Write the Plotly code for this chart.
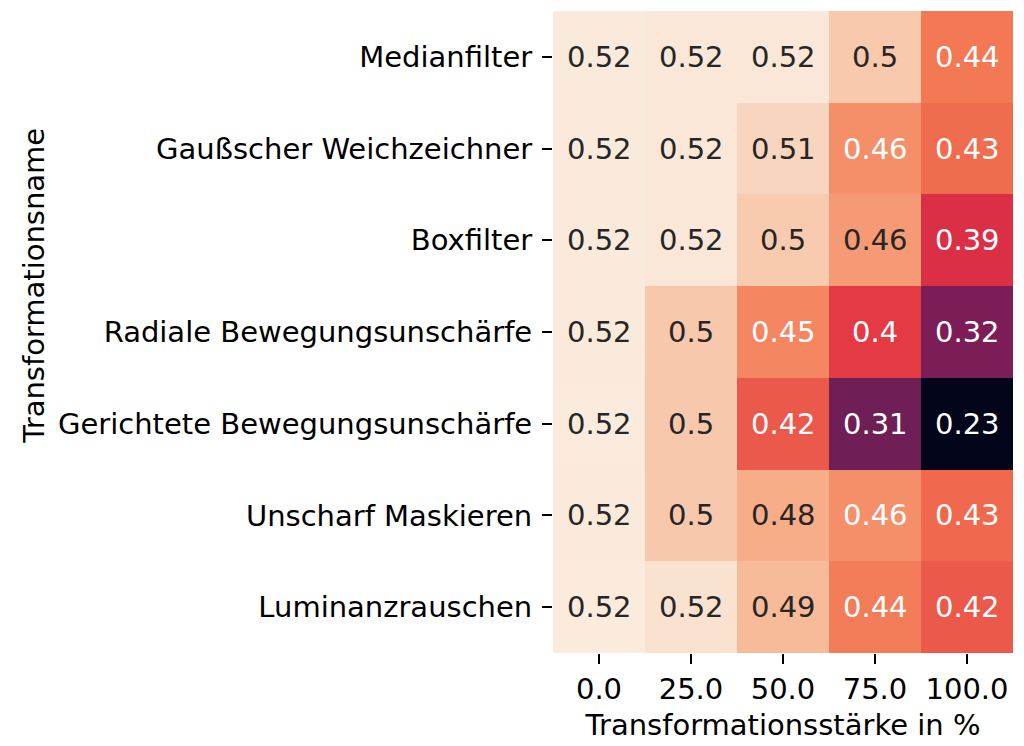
import plotly.graph_objects as go

# ---- data ----
columns = ["0.0", "25.0", "50.0", "75.0", "100.0"]
rows = [
    "Medianfilter",
    "Gaußscher Weichzeichner",
    "Boxfilter",
    "Radiale Bewegungsunschärfe",
    "Gerichtete Bewegungsunschärfe",
    "Unscharf Maskieren",
    "Luminanzrauschen",
]
medianfilter = [0.522, 0.520, 0.520, 0.497, 0.440]
gauss = [0.522, 0.520, 0.506, 0.4555, 0.432]
boxfilter = [0.522, 0.520, 0.498, 0.463, 0.390]
radial = [0.522, 0.496, 0.450, 0.400, 0.320]
gerichtet = [0.523, 0.496, 0.420, 0.310, 0.226]
unscharf = [0.522, 0.496, 0.476, 0.4555, 0.430]
luminanz = [0.523, 0.516, 0.486, 0.443, 0.420]
z = [medianfilter, gauss, boxfilter, radial, gerichtet, unscharf, luminanz]

x_title = "Transformationsstärke in %"
y_title = "Transformationsname"

# seaborn "rocket" colormap (approximation)
rocket_pts = [
    (0.0, (3, 5, 26)),
    (1 / 7, (53, 25, 62)),
    (2 / 7, (112, 31, 87)),
    (3 / 7, (173, 23, 89)),
    (4 / 7, (225, 51, 66)),
    (5 / 7, (243, 118, 81)),
    (6 / 7, (246, 180, 143)),
    (1.0, (250, 235, 221)),
]
colorscale = [[p, "rgb(%d,%d,%d)" % c] for p, c in rocket_pts]

flat = [v for r in z for v in r]
vmin, vmax = min(flat), max(flat)


def cmap(t):
    t = max(0.0, min(1.0, t))
    for (p0, c0), (p1, c1) in zip(rocket_pts[:-1], rocket_pts[1:]):
        if p0 <= t <= p1:
            f = (t - p0) / (p1 - p0) if p1 > p0 else 0
            return [c0[i] + f * (c1[i] - c0[i]) for i in range(3)]
    return list(rocket_pts[-1][1])


def rel_lum(rgb):
    out = []
    for c in rgb:
        c = c / 255.0
        out.append(c / 12.92 if c <= 0.03928 else ((c + 0.055) / 1.055) ** 2.4)
    return 0.2126 * out[0] + 0.7152 * out[1] + 0.0722 * out[2]


FONT = "DejaVu Sans"
FS = 29

xi = list(range(len(columns)))
yi = list(range(len(rows)))

fig = go.Figure(
    go.Heatmap(
        z=z,
        x=xi,
        y=yi,
        colorscale=colorscale,
        zmin=vmin,
        zmax=vmax,
        showscale=False,
        hoverinfo="skip",
    )
)

annotations = []
for ri in yi:
    for ci in xi:
        v = z[ri][ci]
        t = (v - vmin) / (vmax - vmin)
        lum = rel_lum(cmap(t))
        col = "#262626" if lum > 0.408 else "#ffffff"
        annotations.append(
            dict(
                x=ci,
                y=ri,
                xref="x",
                yref="y",
                text=f"{v:.2g}",
                showarrow=False,
                font=dict(family=FONT, size=FS, color=col),
            )
        )

annotations.append(
    dict(
        text=y_title,
        xref="paper",
        yref="paper",
        x=-1.130,
        y=0.5724,
        xanchor="center",
        yanchor="middle",
        textangle=-90,
        showarrow=False,
        font=dict(family=FONT, size=FS, color="#000000"),
    )
)

fig.update_layout(
    width=1024,
    height=746,
    margin=dict(l=553, r=11, t=11, b=93, pad=0),
    paper_bgcolor="white",
    plot_bgcolor="white",
    font=dict(family=FONT, size=FS, color="#000000"),
    annotations=annotations,
    xaxis=dict(
        range=[-0.5, len(columns) - 0.5],
        tickmode="array",
        tickvals=xi,
        ticktext=columns,
        ticks="outside",
        ticklen=10,
        tickwidth=2.2,
        tickcolor="#000000",
        ticklabelstandoff=0,
        showgrid=False,
        zeroline=False,
        showline=False,
        tickfont=dict(family=FONT, size=FS, color="#000000"),
        title=dict(text=x_title, font=dict(family=FONT, size=FS, color="#000000"), standoff=9),
        automargin=False,
    ),
    yaxis=dict(
        range=[len(rows) - 0.5, -0.5],
        tickmode="array",
        tickvals=yi,
        ticktext=rows,
        ticks="outside",
        ticklen=10,
        tickwidth=2.2,
        tickcolor="#000000",
        ticklabelstandoff=4,
        showgrid=False,
        zeroline=False,
        showline=False,
        tickfont=dict(family=FONT, size=FS, color="#000000"),
        automargin=False,
    ),
)

fig.write_html(
    "out.html",
    config={"displayModeBar": False},
    post_script="document.body.style.margin='0';document.body.style.overflow='hidden';",
)
